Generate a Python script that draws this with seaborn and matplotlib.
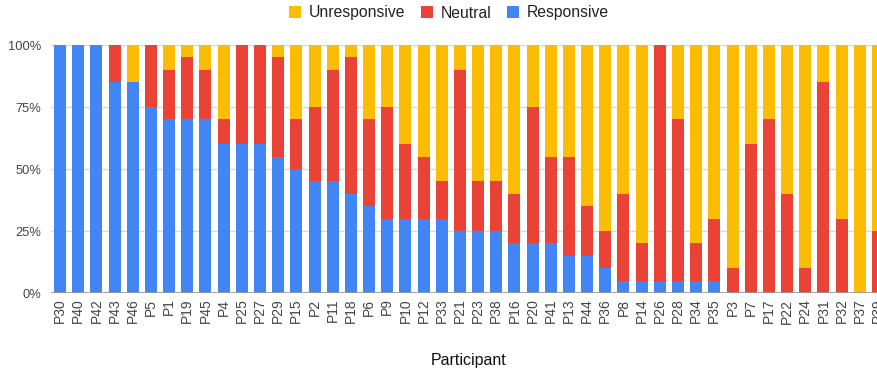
import pandas as pd
import matplotlib.pyplot as plt
import seaborn as sns

# ── data (percent of responses per participant) ──────────────────────────────
participants = ["P30", "P40", "P42", "P43", "P46", "P5", "P1", "P19", "P45", "P4",
                "P25", "P27", "P29", "P15", "P2", "P11", "P18", "P6", "P9", "P10",
                "P12", "P33", "P21", "P23", "P38", "P16", "P20", "P41", "P13", "P44",
                "P36", "P8", "P14", "P26", "P28", "P34", "P35", "P3", "P7", "P17",
                "P22", "P24", "P31", "P32", "P37", "P39"]
responsive = [100, 100, 100, 85, 85, 75, 70, 70, 70, 60,
              60, 60, 55, 50, 45, 45, 40, 35, 30, 30,
              30, 30, 25, 25, 25, 20, 20, 20, 15, 15,
              10, 5, 5, 5, 5, 5, 5, 0, 0, 0,
              0, 0, 0, 0, 0, 0]
neutral = [0, 0, 0, 15, 0, 25, 20, 25, 20, 10,
           40, 40, 40, 20, 30, 45, 55, 35, 45, 30,
           25, 15, 65, 20, 20, 20, 55, 35, 40, 20,
           15, 35, 15, 95, 65, 15, 25, 10, 60, 70,
           40, 10, 85, 30, 0, 25]
unresponsive = [0, 0, 0, 0, 15, 0, 10, 5, 10, 30,
                0, 0, 5, 30, 25, 10, 5, 30, 25, 40,
                45, 55, 10, 55, 55, 60, 25, 45, 45, 65,
                75, 60, 80, 0, 30, 80, 70, 90, 40, 30,
                60, 90, 15, 70, 100, 75]

df = pd.DataFrame({"Participant": participants,
                   "Responsive": responsive,
                   "Neutral": neutral,
                   "Unresponsive": unresponsive})
# cumulative tops for stacking (drawn back to front)
df["top_neutral"] = df["Responsive"] + df["Neutral"]
df["top_all"] = df["top_neutral"] + df["Unresponsive"]

colors = {"Unresponsive": "#FBBC04", "Neutral": "#EA4335", "Responsive": "#4285F4"}

# ── figure ───────────────────────────────────────────────────────────────────
sns.set_style("white")
plt.rcParams["font.family"] = ["Liberation Sans", "DejaVu Sans"]

fig = plt.figure(figsize=(8.78, 3.72), dpi=100)
ax = fig.add_axes([51 / 878, 79 / 372, 836 / 878, 248 / 372])

layers = [("top_all", "Unresponsive"), ("top_neutral", "Neutral"), ("Responsive", "Responsive")]
for col, name in layers:
    sns.barplot(data=df, x="Participant", y=col, order=participants,
                color=colors[name], saturation=1, width=0.66, linewidth=0,
                label=name, ax=ax)

ax.set_ylim(0, 100)
ax.set_xlim(-0.5, len(participants) - 0.5)
ax.set_yticks([0, 25, 50, 75, 100])
ax.set_yticklabels(["0%", "25%", "50%", "75%", "100%"])
ax.yaxis.grid(True, color="#d9d9d9", linewidth=1)
ax.set_axisbelow(True)
ax.axhline(0, color="#999999", linewidth=1.2, zorder=3)
for s in ax.spines.values():
    s.set_visible(False)

ax.tick_params(axis="y", length=0, pad=7, labelsize=9.3, labelcolor="#444444")
ax.tick_params(axis="x", length=0, pad=4, labelsize=10, labelcolor="#444444",
               labelrotation=90)
ax.set_ylabel("")
ax.set_xlabel("Participant", fontsize=11.5, color="#111111", labelpad=21)

if ax.legend_:
    ax.legend_.remove()
handles, labels = ax.get_legend_handles_labels()
leg = fig.legend(handles, labels, loc="center", bbox_to_anchor=(449 / 878, 1 - 13 / 372),
                 ncol=3, frameon=False, fontsize=11.3, handlelength=0.75, handleheight=0.75,
                 handletextpad=0.5, columnspacing=1.0)
for t in leg.get_texts():
    t.set_color("#222222")

fig.savefig("out.png", dpi=100)
